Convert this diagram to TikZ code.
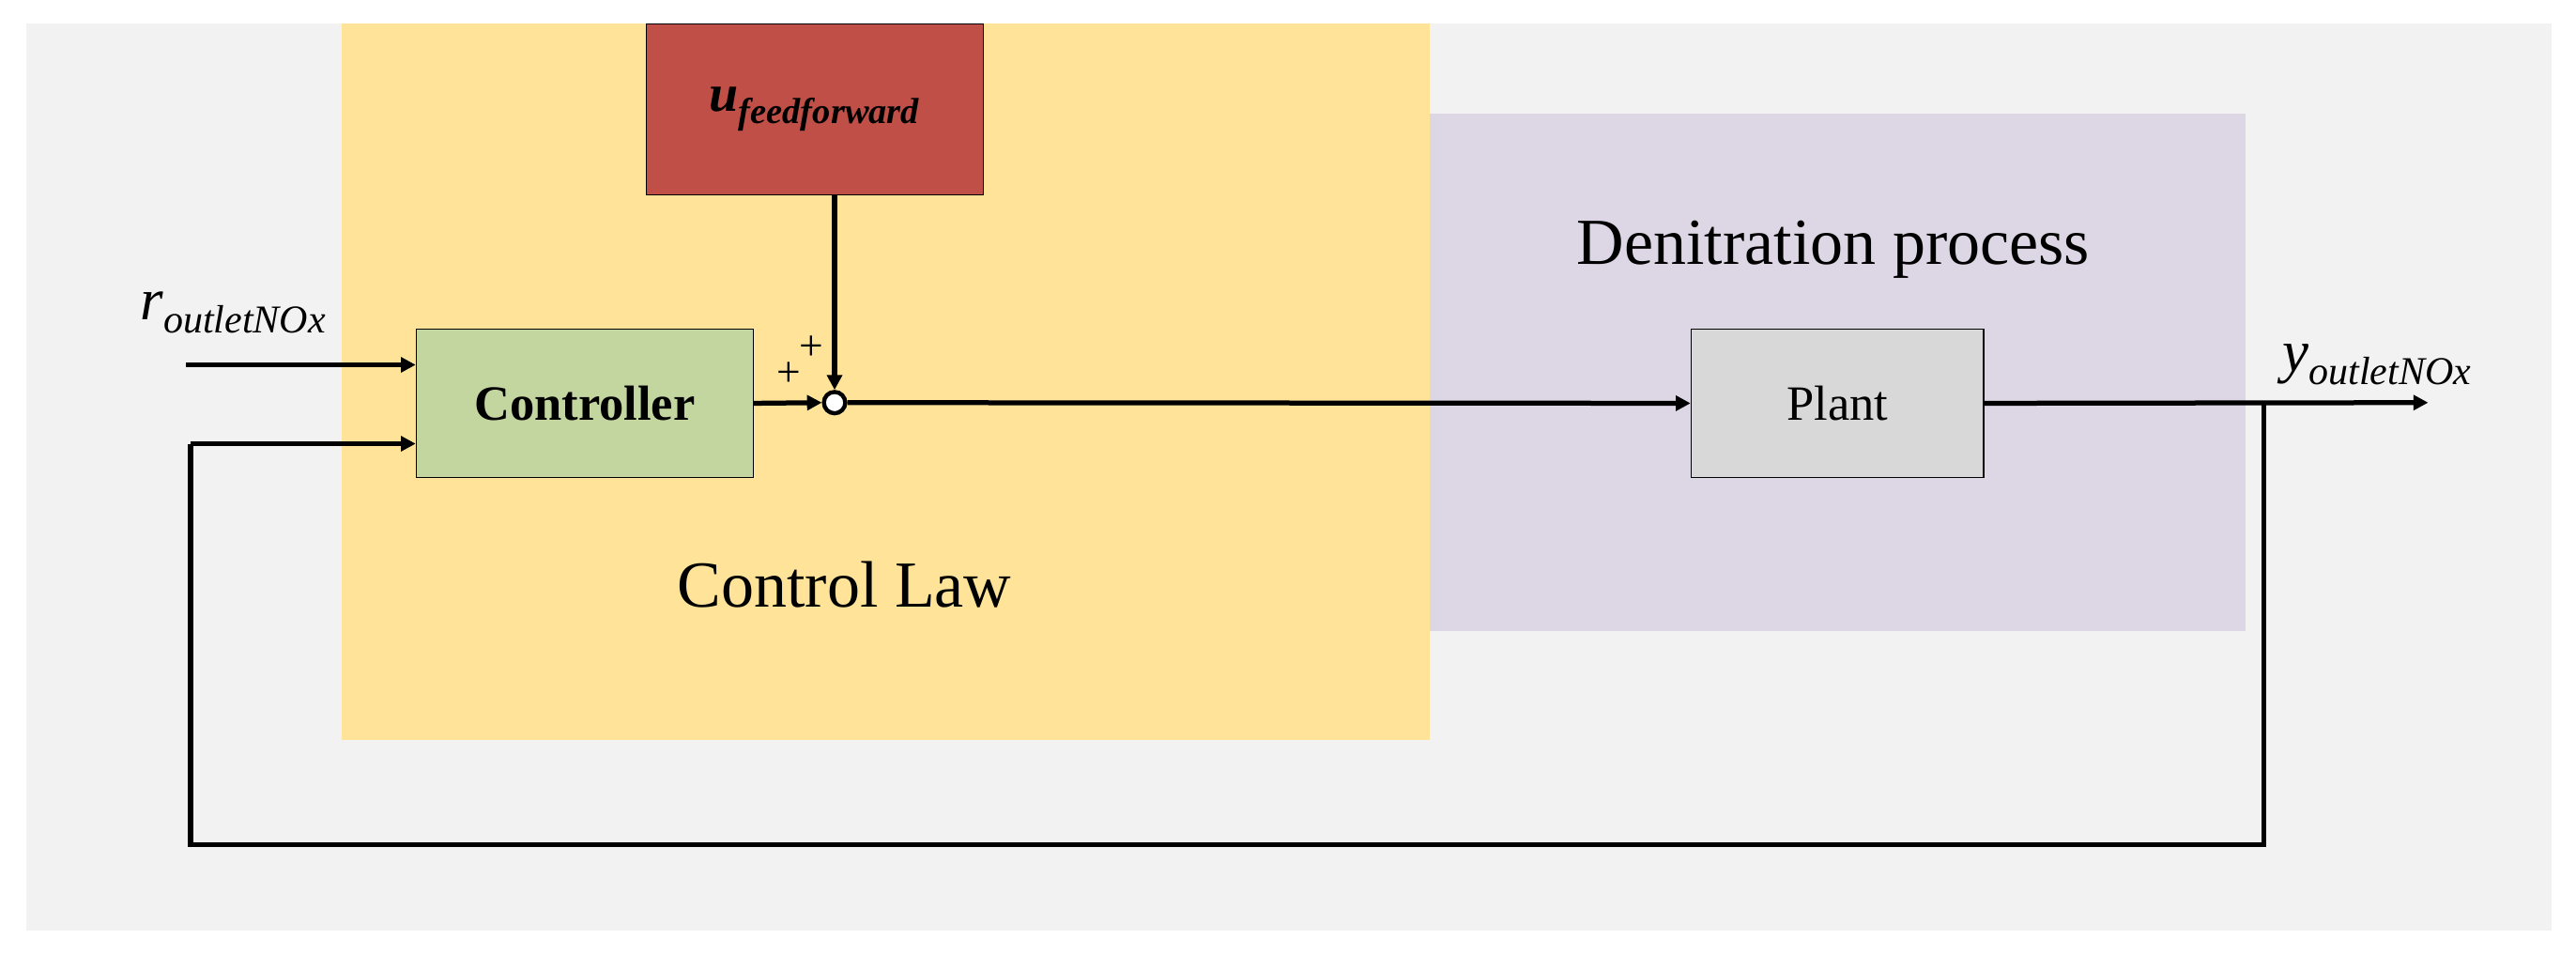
\documentclass[tikz,border=0pt]{standalone}
\usepackage{fontspec}
\setmainfont{Liberation Serif}
\usetikzlibrary{arrows.meta}
\begin{document}
\begin{tikzpicture}[x=1pt,y=-1pt,
  blk/.style={draw=black,line width=0.8pt,anchor=north west,inner sep=0pt},
  wire/.style={line width=3pt},
  arr/.style={wire,-{Triangle[length=9pt,width=9pt]}}]
\useasboundingbox (0,0) rectangle (1568,581);
\fill[white] (0,0) rectangle (1568,581);
\fill[gray!10] (16,14) rectangle (1553,566);
\fill[yellow!40!orange!45] (208,14) rectangle (870,450);
\fill[yellow!40!orange!45] (208,14) rectangle (870,450);
\fill[fill={rgb,255:red,221;green,215;blue,229}] (868,69) rectangle (1367,384);
\fill[fill={rgb,255:red,254;green,227;blue,153}] (208,14) rectangle (870,450);
\fill[fill={rgb,255:red,221;green,215;blue,229}] (870,69) rectangle (1367,384);
\node[blk,fill={rgb,255:red,192;green,80;blue,71},minimum width=205pt,minimum height=104pt] (ff) at (393,14) {};
\node at (ff.center) {\fontsize{32}{36}\selectfont\bfseries\itshape u\textsubscript{\fontsize{22}{24}\selectfont feedforward}};
\node[blk,fill={rgb,255:red,196;green,214;blue,160},minimum width=205pt,minimum height=90pt] (ctrl) at (253,200) {};
\node at (ctrl.center) {\fontsize{30}{34}\selectfont\bfseries Controller};
\node[blk,fill={rgb,255:red,216;green,216;blue,216},minimum width=178pt,minimum height=90pt] (plant) at (1029,200) {};
\node at (plant.center) {\fontsize{30}{34}\selectfont Plant};
\node[circle,draw,line width=2.5pt,fill=white,minimum size=13pt,inner sep=0pt] (sum) at (508,245) {};
\node at (1116,152) {\fontsize{40}{44}\selectfont Denitration process};
\node at (514,356) {\fontsize{40}{44}\selectfont Control Law};
\node at (142,190) {\fontsize{36}{40}\selectfont\itshape r\textsubscript{\fontsize{24}{26}\selectfont outletNOx}};
\node at (1447,222) {\fontsize{36}{40}\selectfont\itshape y\textsubscript{\fontsize{24}{26}\selectfont outletNOx}};
\node at (480,228) {\fontsize{26}{28}\selectfont +};
\node at (494,212) {\fontsize{26}{28}\selectfont +};
\coordinate (rin) at (113,222);
\coordinate (fbin) at (116,270);
\coordinate (tap) at (1378,245);
\coordinate (out) at (1478,245);
\coordinate (br) at (1378,514);
\coordinate (bl) at (116,514);
\draw[arr] (rin) -- (rin -| ctrl.west);
\draw[arr] (fbin) -- (fbin -| ctrl.west);
\draw[arr] (ctrl.east) -- (sum.west);
\draw[arr] (ff.south -| sum) -- (sum.north);
\draw[arr] (sum.east) -- (plant.west);
\draw[arr] (plant.east) -- (out);
\draw[wire,line join=miter] (tap) -- (br) -- (bl) -- (fbin);
\end{tikzpicture}
\end{document}
